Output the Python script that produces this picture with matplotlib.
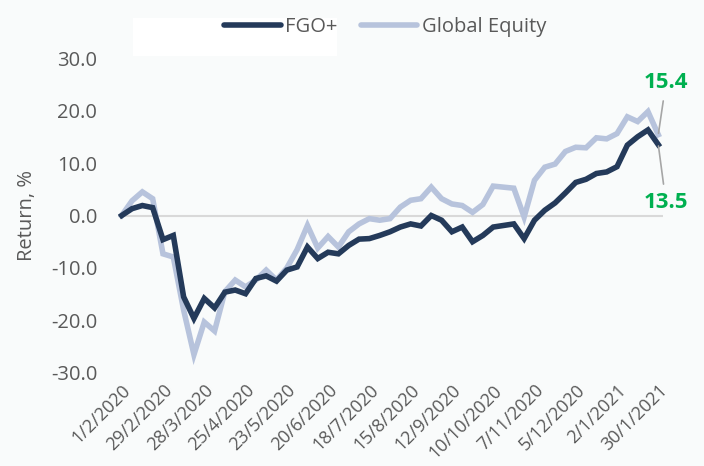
import matplotlib.pyplot as plt
from matplotlib.patches import Rectangle

# weekly cumulative returns, %
fgo = [0.0, 1.3, 1.9, 1.5, -4.6, -3.8, -15.5, -19.6, -15.8, -17.6,
       -14.6, -14.2, -14.9, -12.0, -11.5, -12.5, -10.4, -9.8, -6.0, -8.2,
       -7.0, -7.3, -5.7, -4.5, -4.4, -3.8, -3.1, -2.2, -1.6, -2.0,
       0.0, -0.9, -3.1, -2.2, -5.0, -3.8, -2.2, -1.9, -1.6, -4.4,
       -0.9, 1.0, 2.4, 4.3, 6.3, 6.9, 8.0, 8.3, 9.3, 13.4,
       15.0, 16.3, 13.5]
global_equity = [0.0, 2.8, 4.5, 3.2, -7.3, -7.9, -18.0, -26.5, -20.3, -22.0,
                 -14.5, -12.3, -13.6, -12.3, -10.4, -12.3, -10.0, -6.5, -1.9, -6.2,
                 -4.0, -6.0, -3.1, -1.6, -0.6, -0.9, -0.6, 1.6, 2.9, 3.2,
                 5.4, 3.2, 2.2, 1.9, 0.6, 2.1, 5.6, 5.4, 5.2, -0.3,
                 6.7, 9.2, 9.8, 12.2, 13.0, 12.9, 14.8, 14.6, 15.6, 18.8,
                 17.9, 19.8, 15.4]
tick_labels = ["1/2/2020", "29/2/2020", "28/3/2020", "25/4/2020", "23/5/2020",
               "20/6/2020", "18/7/2020", "15/8/2020", "12/9/2020", "10/10/2020",
               "7/11/2020", "5/12/2020", "2/1/2021", "30/1/2021"]
y_ticks = [30, 20, 10, 0, -10, -20, -30]

navy = "#243a5a"
light = "#b7c3dc"
grey = "#595959"
green = "#00b050"
font = "Open Sans"

fig = plt.figure(figsize=(7.04, 4.66), dpi=100, facecolor="#f9fbfb")
ax = fig.add_axes([0.1676, 0.1996, 0.7742, 0.6759])
ax.set_facecolor("#f9fbfb")
ax.set_zorder(1)

# white box behind the legend
fig.add_artist(Rectangle((133 / 704, 1 - 56 / 466), 204 / 704, 38 / 466,
                         transform=fig.transFigure, facecolor="white",
                         edgecolor="none", zorder=0))

x = list(range(len(fgo)))
ax.axhline(0, color="#d9d9d9", lw=1.5, zorder=1)
ax.plot(x, fgo, color=navy, lw=4, solid_joinstyle="miter", label="FGO+", zorder=3)
ax.plot(x, global_equity, color=light, lw=4, solid_joinstyle="miter",
        label="Global Equity", zorder=2)

ax.set_xlim(-0.36, 52.46)
ax.set_ylim(-30, 30)
ax.set_yticks(y_ticks)
ax.set_yticklabels([f"{v:.1f}" for v in y_ticks], fontfamily=font,
                   fontsize=14.5, color=grey)
ax.set_xticks(x[::4])
ax.set_xticklabels(tick_labels, rotation=45, ha="right", rotation_mode="anchor",
                   fontfamily=font, fontsize=13, color=grey)
ax.tick_params(axis="y", length=0, pad=15)
ax.tick_params(axis="x", length=0, pad=6)
for s in ax.spines.values():
    s.set_visible(False)

ax.set_ylabel("Return, %", fontfamily=font, fontsize=14.5, color=grey, labelpad=10)

leg = ax.legend(loc="center", bbox_to_anchor=(385 / 704, 1 - 27 / 466),
                bbox_transform=fig.transFigure, ncol=2, frameon=False,
                prop={"family": font, "size": 14.5}, handlelength=2.8,
                handletextpad=0.2, columnspacing=1.2)
for t in leg.get_texts():
    t.set_color(grey)
for h in leg.get_lines():
    h.set_linewidth(4)
    h.set_solid_capstyle("round")

ax.annotate(f"{global_equity[-1]:.1f}", xy=(52, global_equity[-1]),
            xytext=(52.75, 25.4), ha="center", va="center", color=green,
            fontfamily=font, fontweight="bold", fontsize=16,
            annotation_clip=False,
            arrowprops=dict(arrowstyle="-", color="#a6a6a6", lw=1.2,
                            shrinkA=4, shrinkB=1))
ax.annotate(f"{fgo[-1]:.1f}", xy=(52, fgo[-1]),
            xytext=(52.75, 2.4), ha="center", va="center", color=green,
            fontfamily=font, fontweight="bold", fontsize=16,
            annotation_clip=False,
            arrowprops=dict(arrowstyle="-", color="#a6a6a6", lw=1.2,
                            shrinkA=4, shrinkB=1))

fig.savefig("out.png", dpi=100, facecolor=fig.get_facecolor())
